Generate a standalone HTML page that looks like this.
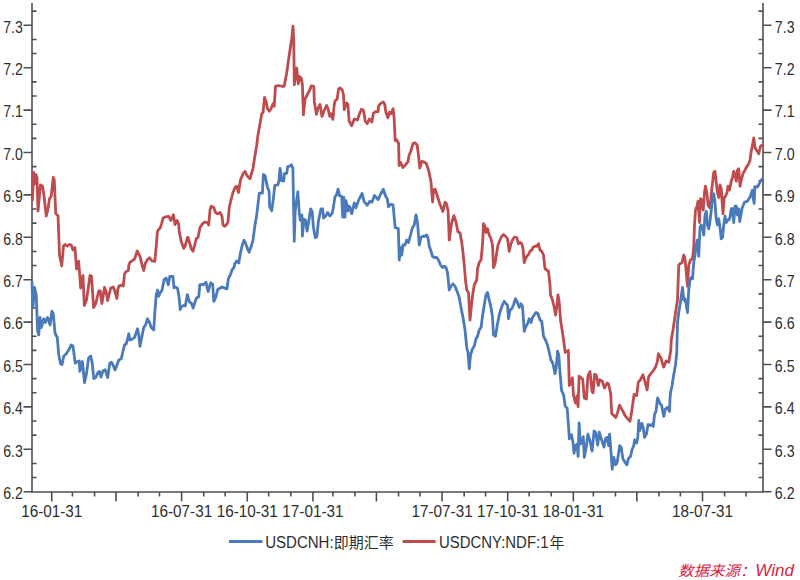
<!DOCTYPE html>
<html><head><meta charset="utf-8"><style>
html,body{margin:0;padding:0;background:#fff;}
body{width:800px;height:580px;overflow:hidden;}
svg{display:block;}
</style></head><body>
<svg width="800" height="580" viewBox="0 0 800 580">
<g stroke="#4F4F4F" stroke-width="1.6" fill="none">
<path d="M32,3V492H763V3"/>
<path d="M23.5,25.30H32M23.5,67.70H32M23.5,110.10H32M23.5,152.50H32M23.5,194.90H32M23.5,237.30H32M23.5,279.70H32M23.5,322.10H32M23.5,364.50H32M23.5,406.90H32M23.5,449.30H32M23.5,491.70H32M763,25.30H771.5M763,67.70H771.5M763,110.10H771.5M763,152.50H771.5M763,194.90H771.5M763,237.30H771.5M763,279.70H771.5M763,322.10H771.5M763,364.50H771.5M763,406.90H771.5M763,449.30H771.5M763,491.70H771.5M32,11.17H36.5M32,39.43H36.5M32,53.57H36.5M32,81.83H36.5M32,95.97H36.5M32,124.23H36.5M32,138.37H36.5M32,166.63H36.5M32,180.77H36.5M32,209.03H36.5M32,223.17H36.5M32,251.43H36.5M32,265.57H36.5M32,293.83H36.5M32,307.97H36.5M32,336.23H36.5M32,350.37H36.5M32,378.63H36.5M32,392.77H36.5M32,421.03H36.5M32,435.17H36.5M32,463.43H36.5M32,477.57H36.5M758.5,11.17H763M758.5,39.43H763M758.5,53.57H763M758.5,81.83H763M758.5,95.97H763M758.5,124.23H763M758.5,138.37H763M758.5,166.63H763M758.5,180.77H763M758.5,209.03H763M758.5,223.17H763M758.5,251.43H763M758.5,265.57H763M758.5,293.83H763M758.5,307.97H763M758.5,336.23H763M758.5,350.37H763M758.5,378.63H763M758.5,392.77H763M758.5,421.03H763M758.5,435.17H763M758.5,463.43H763M758.5,477.57H763M51.75,492V501.5M72.44,492V496.5M94.56,492V496.5M115.97,492V501.5M138.09,492V496.5M159.49,492V496.5M181.61,492V501.5M203.73,492V496.5M225.14,492V496.5M247.26,492V501.5M268.67,492V496.5M290.79,492V496.5M312.91,492V501.5M332.89,492V496.5M355.01,492V496.5M376.41,492V501.5M398.53,492V496.5M419.94,492V496.5M442.06,492V501.5M464.18,492V496.5M485.58,492V496.5M507.70,492V501.5M529.11,492V496.5M551.23,492V496.5M573.35,492V501.5M593.33,492V496.5M615.45,492V496.5M636.85,492V501.5M658.97,492V496.5M680.38,492V496.5M702.50,492V501.5M724.62,492V496.5M746.03,492V496.5"/>
</g>
<g font-family="&quot;Liberation Sans&quot;, sans-serif" font-size="16" fill="#2E2E2E">
<text x="3.2" y="32.65" textLength="19.6" lengthAdjust="spacingAndGlyphs">7.3</text>
<text x="774.8" y="32.65" textLength="19.8" lengthAdjust="spacingAndGlyphs">7.3</text>
<text x="3.2" y="75.05" textLength="19.6" lengthAdjust="spacingAndGlyphs">7.2</text>
<text x="774.8" y="75.05" textLength="19.8" lengthAdjust="spacingAndGlyphs">7.2</text>
<text x="3.2" y="117.45" textLength="19.6" lengthAdjust="spacingAndGlyphs">7.1</text>
<text x="774.8" y="117.45" textLength="19.8" lengthAdjust="spacingAndGlyphs">7.1</text>
<text x="3.2" y="159.85" textLength="19.6" lengthAdjust="spacingAndGlyphs">7.0</text>
<text x="774.8" y="159.85" textLength="19.8" lengthAdjust="spacingAndGlyphs">7.0</text>
<text x="3.2" y="202.25" textLength="19.6" lengthAdjust="spacingAndGlyphs">6.9</text>
<text x="774.8" y="202.25" textLength="19.8" lengthAdjust="spacingAndGlyphs">6.9</text>
<text x="3.2" y="244.65" textLength="19.6" lengthAdjust="spacingAndGlyphs">6.8</text>
<text x="774.8" y="244.65" textLength="19.8" lengthAdjust="spacingAndGlyphs">6.8</text>
<text x="3.2" y="287.05" textLength="19.6" lengthAdjust="spacingAndGlyphs">6.7</text>
<text x="774.8" y="287.05" textLength="19.8" lengthAdjust="spacingAndGlyphs">6.7</text>
<text x="3.2" y="329.45" textLength="19.6" lengthAdjust="spacingAndGlyphs">6.6</text>
<text x="774.8" y="329.45" textLength="19.8" lengthAdjust="spacingAndGlyphs">6.6</text>
<text x="3.2" y="371.85" textLength="19.6" lengthAdjust="spacingAndGlyphs">6.5</text>
<text x="774.8" y="371.85" textLength="19.8" lengthAdjust="spacingAndGlyphs">6.5</text>
<text x="3.2" y="414.25" textLength="19.6" lengthAdjust="spacingAndGlyphs">6.4</text>
<text x="774.8" y="414.25" textLength="19.8" lengthAdjust="spacingAndGlyphs">6.4</text>
<text x="3.2" y="456.65" textLength="19.6" lengthAdjust="spacingAndGlyphs">6.3</text>
<text x="774.8" y="456.65" textLength="19.8" lengthAdjust="spacingAndGlyphs">6.3</text>
<text x="3.2" y="499.05" textLength="19.6" lengthAdjust="spacingAndGlyphs">6.2</text>
<text x="774.8" y="499.05" textLength="19.8" lengthAdjust="spacingAndGlyphs">6.2</text>
<text x="21.15" y="517.3" textLength="61.2" lengthAdjust="spacingAndGlyphs">16-01-31</text>
<text x="151.01" y="517.3" textLength="61.2" lengthAdjust="spacingAndGlyphs">16-07-31</text>
<text x="216.66" y="517.3" textLength="61.2" lengthAdjust="spacingAndGlyphs">16-10-31</text>
<text x="282.31" y="517.3" textLength="61.2" lengthAdjust="spacingAndGlyphs">17-01-31</text>
<text x="411.46" y="517.3" textLength="61.2" lengthAdjust="spacingAndGlyphs">17-07-31</text>
<text x="477.10" y="517.3" textLength="61.2" lengthAdjust="spacingAndGlyphs">17-10-31</text>
<text x="542.75" y="517.3" textLength="61.2" lengthAdjust="spacingAndGlyphs">18-01-31</text>
<text x="671.90" y="517.3" textLength="61.2" lengthAdjust="spacingAndGlyphs">18-07-31</text>
</g>
<polyline points="32.5,200 33.6,172.5 34.6,184 35.8,174.5 37,177.5 38,211 40.5,185 42.5,186 43.75,193.75 46.25,216 48,208.75 49.5,198.75 51.25,196 53.25,177.5 54.25,180 55.75,213.75 58,215.5 59.5,255 61.75,266 63.5,246 65,244.5 67.5,246 69.5,244.5 71.25,245 73,250 75,247.5 76.5,269 78.6,261.2 79.7,274.6 80.7,288 81.8,282 83,275.5 84.3,305.5 86.5,300 88,290 90,275.5 91.5,276 93.6,307.5 95.7,303.5 98.8,291 100.3,291 101.9,303.5 104.5,287.5 106,291 107.6,300.5 110.7,288 113.3,287 114.8,291 116.9,298.5 117.9,289 119,286 121.6,285 123.3,286 124.6,273.6 126.2,271.5 128.3,270.5 128.8,265.3 130,262.4 134.7,258.8 137.2,251 140.3,257.2 142,265 143.75,270.5 145.5,262.9 147.5,259.5 149.6,257.7 151.7,260.8 154.8,261.4 156.4,244.3 157.4,231.9 158.4,229.8 160,228.3 161.5,224.1 163.1,217.9 165.2,216.9 168.8,216.4 170.8,220.5 173.4,214.8 175,224.6 177.1,220.5 178.6,223.6 179.1,230.9 181.2,241.2 183.8,248.4 185.3,245.3 187.4,237.6 188,237.5 189.5,242.5 191.25,248.75 193,251.25 195,243.75 196.25,238.75 198,237.5 200,227.5 202.5,223.75 205,222 207.5,222.5 208.75,225 210,210 211.25,206.25 213.75,207.5 215.5,212.5 217.5,213.75 220,212.5 222,216.25 223,225 224.5,226.25 226.25,225 228,222 229.25,207.5 231,200 233,192.5 235,187.5 236.75,186.25 238.5,192.5 240.5,180 243,173.75 245,171.25 246.75,175 248.5,177.5 250,178.75 251.75,172.5 253,168.75 254.25,160 256.75,145 258,135 261.75,113.75 263,112.5 264.5,97.5 266,101.25 267.5,108.75 269.25,111.25 271,108.75 273,103.75 274.25,106.25 275.5,86.25 278,85.5 281.75,86.25 284.25,86.25 286.75,72.5 289.25,55 291.75,38.75 293,26.25 293.75,40 294.3,84.8 296.7,67.8 298.3,83.8 299.8,76.5 301.4,78.6 302.4,84.8 303.4,114.8 305,99.3 308.1,93.1 310.2,89 311.2,85.9 313.8,86.4 314.3,101.4 316.4,114.3 317.9,108.6 320,104.5 322,116.4 324.1,110.7 326.7,105.5 328.3,109.6 329.8,116.4 331.4,113.8 332.9,119.5 334,106.5 335,100.8 337.1,99.3 338.6,89 340.2,87.9 342.2,90 343.5,95 344.3,109.6 346.6,102.9 347.9,104.5 349.1,121 351.7,125.7 354.3,119 357.4,120 359,115.3 361.5,109.1 363.6,110.7 365.2,121 367.2,123.6 369.3,119 371.9,122.1 373.4,113.3 375.5,111.7 378.1,111.7 378.6,106 380.7,103.4 383.3,101.9 384.8,104.5 385.8,111.7 387.9,117.9 389.5,112.2 391,113.8 393.1,108.6 394.1,117.9 395.2,140.7 396,139.1 398.6,143.3 399.1,165.5 400.7,162.4 402.8,167.6 405.3,165 407.9,161.9 409,155.7 411,150.5 413.1,143.3 415.2,142.8 417.2,145.3 418.3,153.6 419.8,168.1 421.9,161.4 425,162.4 426.5,164 429.1,172.2 431,182 432.6,202 433.6,189.8 435.2,189.3 437.2,195.5 439.8,203.8 442.9,211.5 445,202.2 446.5,203.8 448.1,211 449.3,240 450.5,230 451.75,222.5 453.8,215.7 455.9,221.4 457.9,231.7 460,232.7 461.75,242.5 463,252.5 464.25,265 465.5,280 466.75,290 468.5,292.5 470,320 471.75,302.5 473,292.5 474.25,285 476.75,280 477.5,268.75 479.25,262.5 481,260 482.5,245 483.5,223.75 485,226.25 486,232.5 487.5,228.75 489.25,235 491,238.75 492.5,245 493.5,267.5 495,263.75 496.75,252.5 498,245 500,240 501.75,236.25 503.5,234.5 505.5,236.25 507.5,238.75 509.25,251.25 511,243.75 513,238.75 515,237 516.75,237.5 518.5,243.75 520,242.5 521.75,243.75 523,248.75 524.25,262.5 525.5,258.75 526.75,256.25 528.5,254.5 530,251.25 531.75,250 533,247.5 535,246.25 536.75,246.25 538.5,243.75 540,250 541.75,251.25 543.5,255 545,268.75 546.75,270 548.5,271.25 550,285 550.5,295 552.5,300 554.25,307.5 555.5,315 556.75,307.5 558,295 559.25,302.5 560.5,320 562.5,332.5 563.6,340 565.2,352.4 568.3,350.3 569.3,385.5 570.8,383 572.4,377.8 573.4,394.8 575.5,403.1 577.1,395.9 578.1,406.7 579.1,376.2 581.2,377.8 582.7,379.3 584.3,397.9 586.4,399 587.9,376.2 590,371.6 592.1,391.7 593.1,392.8 594.6,374.1 596.2,375.2 598.3,385.5 599.8,379.8 602.4,381.4 604.5,388.1 607.1,382.9 608.6,384 610.7,393.8 611.7,413.4 613.8,415.5 615.8,417.6 617.9,411.4 619.5,405.2 622.2,410 625.5,416.25 626.75,417.5 628.5,420 630,421.25 631.75,411.25 634.1,394.5 636.7,395.5 638.3,382.1 640.3,380 642.9,374.8 644.5,380 647.1,389.8 648.6,376.9 650.7,373.8 653.3,370.7 655.8,366.5 657.4,361.4 658.4,353.6 661,358.3 663.6,367.1 666.2,360.9 668.8,362.4 669.8,356.2 670.8,350 671.25,340 673,330 674.5,320 676.25,307.5 677.5,300 678.75,265 680,263.75 682,262.5 683.75,255 685,258.75 686.25,272.5 687.5,286.25 688.75,265 690.5,260 692.5,258.75 693.75,247.5 694.5,225 695.5,210 697,206.25 698,201.25 699.5,222.5 700.5,198.75 702,200 703.25,210 704.5,192.5 705.5,186.25 707,193.75 708,205 709.5,207.5 710.75,200 712,187.5 713.75,172.5 715,171.25 716.25,182.5 717.5,192.5 718.75,197.5 720,185 721.25,188.75 722,200 723,213.75 724.25,197.5 725.5,196.25 727,192.5 728,186.25 729.5,190 731.25,181.25 732.5,177.5 733.75,171.25 735,175 736.25,181.25 737.5,170 738.75,168.75 740,186.25 741.25,180 743,173.75 745,170 747,166.25 748.75,163.75 750,160 751.25,151.25 752.5,145 753.75,138 755,147.5 756.25,150 757.5,151.25 758.75,153.75 760.5,146.25 762,145" fill="none" stroke="#BE4B4E" stroke-width="2.8" stroke-linejoin="round" stroke-linecap="round"/>
<polyline points="32,282.5 33,307.5 34.5,287.5 36.25,295 37.5,330 38.75,335 40,317.5 41.25,327.5 43.75,318.75 45.5,322.5 47.5,317.5 48.75,320 50,325 52,311.25 53.25,313.75 55,333 57.25,337.5 58.75,355 60.5,363.75 62,364.5 63.75,356.25 66.25,353.75 68.75,350 71.25,345 73,346.25 75.2,363.1 77.2,361.5 79.3,361 79.8,371.4 82.4,361.5 84.5,382.7 86.5,373.4 88.6,357.9 90.7,355.9 92.2,363.1 93.8,378.6 95.8,377.6 97.9,372.4 99.5,371.4 101,377.1 103.1,370.8 105.2,369.8 107.7,377.6 109.8,363.1 111.4,362.1 113.4,365.7 115,370 117,365 118.75,360 121.25,358.75 123,351.25 124.5,345 126.25,343.75 128,337.5 128.75,333.75 130,340 132.5,339 134.5,337.5 136.25,332.5 137.5,328.75 138.75,335 140,346.25 142,336 143.75,327.5 145.5,325 147.5,318.75 149.5,322.5 151.25,327.5 153.75,330 155,310 156.25,295 157.5,290 158.75,296.25 160,293.1 162.1,290 164.1,279.6 166.2,278.1 168.3,284.8 169.8,276.5 172.9,276.5 174,287.9 175.5,286.9 177.6,288.4 179.1,297.2 180.2,309.6 181.7,306.5 183.8,305.5 185.3,306 187.4,294.6 189.5,301.9 191.5,303.4 193.1,308.1 194.6,303.4 196.2,298.3 198.8,296.7 199.8,284.8 201.4,284.3 203.4,284.8 206,282.2 208.1,291.5 210.7,282.8 212.7,284.3 213.8,301.4 215.8,297.2 217.9,289 219.5,288.75 221.7,286.9 224.3,287.9 226.9,289 228.4,278.6 230.5,274.5 232.1,269.8 234.1,267.2 234.6,264.1 236.7,261 238.8,263.1 240.3,253.8 241.9,246.5 244,240.3 245.5,242.9 247.1,247.6 249.1,252.2 251.2,246.5 253,240 255,225 256.7,215 258.3,201.4 259.3,193.1 262.4,193.1 263.4,174.5 265,175.5 267.6,187.9 269.1,191 269.6,206.5 271.7,210.7 273.3,199.3 274.8,185.3 277.9,184.8 279,180.7 280,168.3 281,173.4 281.5,180.7 283.6,181.2 284.6,173.4 286.7,173.4 287.7,166.7 289.8,166.2 291.4,164.7 292.9,168.3 293.5,202.5 294.25,241.25 295.2,210.9 297.8,191.7 299.3,212.9 300.3,220.2 301.9,215 302.4,236.2 304,219.1 305.5,220.2 307.1,231 308.6,222.2 310.7,208.8 312.2,211.9 313.3,226.4 315.3,237.7 316.9,236.7 318.4,221.2 321,208.8 322.6,208.8 323.6,218.1 325.7,216 327.7,212.4 329.8,216 332.4,212.9 333.9,203.6 335,196.9 336.5,194.8 338.1,189.1 339.6,195.9 341.7,196.4 342.7,217.1 343.8,197.4 345,217.2 346,200.7 348.1,211 349.25,206.25 350.2,207.9 351.7,213.6 354.3,202.8 355.9,207.9 358.4,200.7 362.1,193.4 364.1,201.7 367.2,205.3 369.8,201.2 371.9,202.2 374.5,195.5 378.1,199.6 380.7,194 383.3,189.3 385.3,195.5 387.4,199.1 388.4,206.9 390.5,204.3 393.1,204.8 394.1,216.2 395.2,227.6 398.3,228.6 399.25,260 400.5,247.5 401.75,255 403,245 405,245 406.75,240 408.5,242.5 410.5,235 412.5,227.5 414.25,225 416,215 417.5,222.5 419.25,245 421,237.5 423,236.25 425,236.25 426.75,235 428,238 429.25,246.25 431,251.25 432.5,256.25 434.25,257.5 436.75,257.5 438.5,260 440.5,265 442.5,267.5 444.25,266.25 446,267.5 447.5,272.5 449.25,290 451,286.25 453,283.75 455,286.25 457.5,292.5 459.25,297.5 461,307.5 463,317.5 465,330 466.75,347.5 468,352.5 469.25,368.75 470.5,355 472.5,348.75 474.25,346.25 476,338.75 477.5,336.25 479.25,330 481,327.5 482.5,316.25 484.25,305 486,295 487.5,292.5 489.25,300 491,307.5 492.5,317.5 493.5,335 495.5,336.25 497.5,323.75 499.25,315 501,308.75 502.5,305 504.25,301.25 506,303.75 507.5,305 508.5,318.75 510,310 511.75,308.75 513.5,305 515.5,298.75 517.5,302.5 519.25,307.5 521,303.75 522.5,306.25 524.25,331.25 526,326.25 527.5,323.75 529.25,318.75 531,322.5 532.5,317.5 534.25,315 536,312.5 538,313.75 540,320 541.75,321.25 543.5,336.25 545.5,340 547.5,345 549.25,352.5 551,360 553,363.75 555,373.75 556.25,367.5 557.5,351.25 558.75,355 560,372.5 560.5,378 561.6,390.7 563.6,394.8 565.2,406.2 567.2,408.3 568.8,430 569.3,438.8 571.4,434.6 572.9,441.9 574,453.3 575.5,445.5 577.1,444 578.1,456.4 579.1,422.8 580.2,444 581.7,442.9 583.3,436.7 584.3,457.4 586.4,446 587.9,434.1 590,440.9 592.1,451.2 594.1,431 595.7,432.6 597.7,445 599.3,432.1 601.4,439.3 604,447.1 605.5,438.8 607.1,437.2 608.6,445.5 609.6,434.1 610.7,448.1 612.2,469.3 613.8,457.4 615.5,464.8 617.1,462.7 619.7,445.7 621.2,447.2 622.8,458.6 625.3,462.7 626.9,464.8 628.4,458.6 630.5,456.5 632.1,449.3 633.6,446.2 634.6,440 636.7,443.1 637.8,436.9 638.8,420.3 639.8,430.7 641.9,423.4 643.4,428.6 644.5,437.4 646.5,433.8 648.1,424.5 650.2,425.5 651.7,424.5 653.3,426.5 654.5,414.5 656,411.4 657.6,397.9 658.6,400 660.2,404.1 661.5,405 663.8,416.5 665.3,409.3 667.4,407.2 669.5,411.4 670,399 670.5,392.8 672.1,385.5 673.1,378.3 674.6,370 675.5,365 676.75,352.5 677.5,322.5 678.75,312.5 680,305 681.25,296.25 682.5,287.5 683.75,300 685,298.75 686.25,305 687.5,312.5 688.75,290 690,280 691.25,277.5 692.5,278.75 693.75,262.5 695,255 696.25,245 697.5,240 698.75,256.25 700,227.5 701.25,225 702.5,227.5 703.75,235 705,215 706.25,211.25 707.5,225 708.75,228.75 710,221.25 711.25,210 712.5,197.5 713.75,193.75 715,202.5 716.25,220 717.5,225 718.75,218.75 720,227.5 721.25,238.75 722.5,237.5 723.75,225 725,216.25 726.25,222.5 727.5,220 728.75,220 730,217.5 731.25,208.75 732.5,208.75 733.75,222.5 735,206.25 736.25,206.25 737.5,215 738.75,208.75 739.7,221.6 742.1,208.3 744.5,202.3 747.5,201.1 750.5,196.2 752.3,190.2 753.5,200 754.2,203.5 754.8,186.6 757.2,187.2 759,184.2 760.8,180.5 762,179.3" fill="none" stroke="#4A7ABA" stroke-width="2.8" stroke-linejoin="round" stroke-linecap="round"/>
<path d="M229,541.6H262.5" stroke="#4A7ABA" stroke-width="3"/>
<path d="M402.7,541.6H435.7" stroke="#BE4B4E" stroke-width="3"/>
<g font-family="&quot;Liberation Sans&quot;, &quot;Noto Sans CJK SC&quot;, sans-serif" font-size="16" fill="#2E2E2E">
<text x="265.2" y="547.8" font-size="16" textLength="68.4" lengthAdjust="spacingAndGlyphs">USDCNH:</text>
<text x="333.8" y="548" font-size="15" textLength="60" lengthAdjust="spacingAndGlyphs">即期汇率</text>
<text x="438.9" y="547.8" font-size="16" textLength="109.6" lengthAdjust="spacingAndGlyphs">USDCNY:NDF:1</text>
<text x="549.4" y="548" font-size="15">年</text>
</g>
<text x="678.3" y="575.5" textLength="115.6" lengthAdjust="spacingAndGlyphs" font-family="&quot;Liberation Sans&quot;, &quot;Noto Sans CJK SC&quot;, sans-serif" font-size="16" font-style="italic" fill="#DC223F"><tspan font-size="14.5">数据来源：</tspan>Wind</text>
</svg>
</body></html>
